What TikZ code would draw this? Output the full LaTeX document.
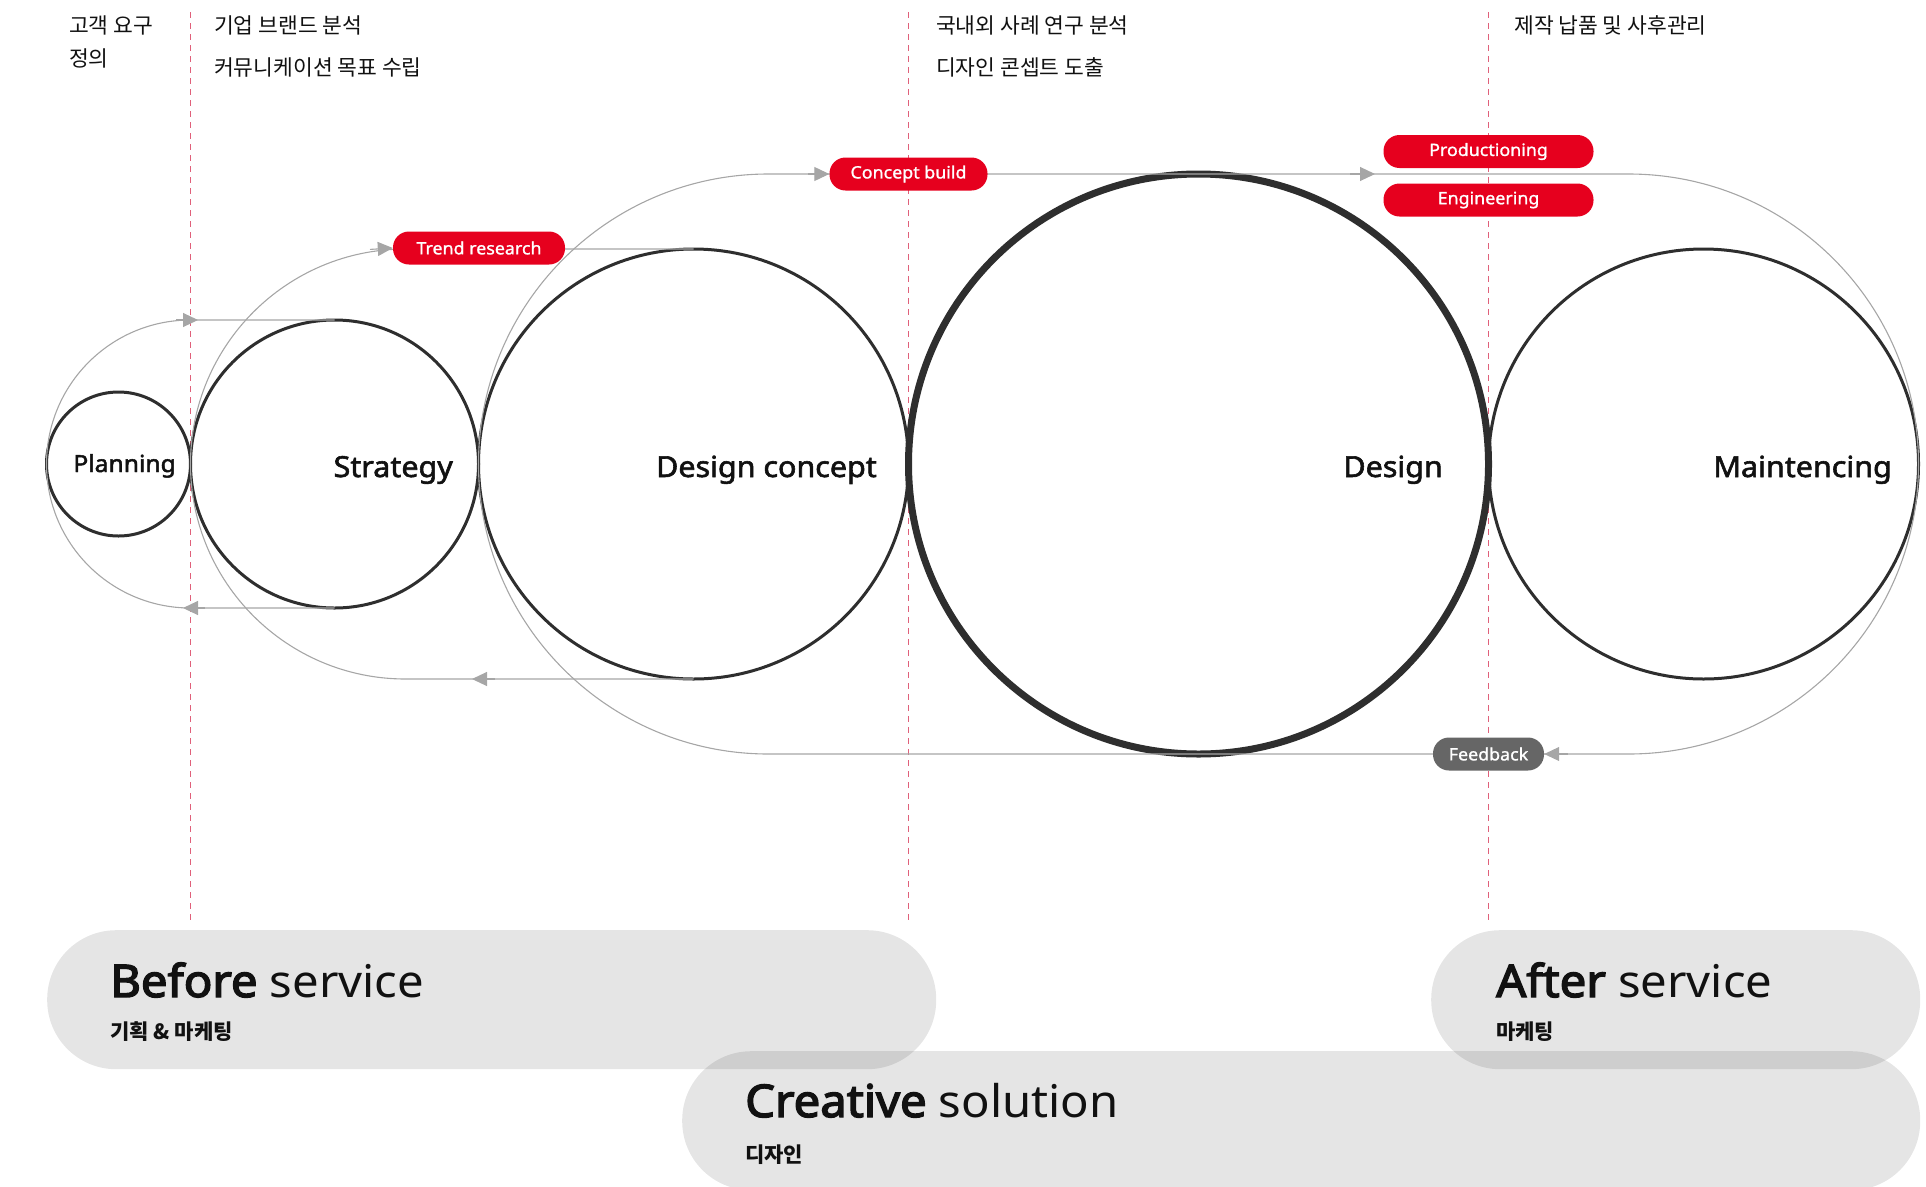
\documentclass[tikz,border=0pt]{standalone}
\usepackage{fontspec}
\setmainfont{Noto Sans}[FakeStretch=1.05]
\newfontfamily\kr{Noto Sans CJK KR}
\newfontfamily\medfont[FakeBold=1.2,FakeStretch=1.05]{Noto Sans}
\newfontfamily\semibold[FakeBold=2,FakeStretch=1.05]{Noto Sans}
\newfontfamily\heavy[FakeBold=3.2,FakeStretch=1.05]{Noto Sans}
\usetikzlibrary{arrows.meta}
\definecolor{pillred}{HTML}{E6001E}
\definecolor{flow}{HTML}{A6A6A6}
\definecolor{ringc}{HTML}{2E2E2E}
\definecolor{guide}{HTML}{E0607A}
\definecolor{fbgrey}{HTML}{666666}
\definecolor{ink}{HTML}{111111}
\begin{document}
\begin{tikzpicture}[x=1pt,y=1pt,
  ring/.style={circle,draw=ringc,line width=3pt,inner sep=0pt,outer sep=0pt},
  flowline/.style={draw=flow,line width=1.1pt},
  flowarrow/.style={draw=flow,fill=flow,line width=1.1pt,-{Triangle[length=15pt,width=14pt]}},
  guideline/.style={draw=guide,line width=1pt,dash pattern=on 6pt off 5pt},
  pill/.style={fill=pillred,text=white,rounded corners=16pt,minimum height=33pt,inner sep=0pt,font=\fontsize{17}{17}\selectfont\medfont},
  ringlabel/.style={anchor=base east,text=ink,inner sep=0pt,font=\fontsize{29}{29}\selectfont\semibold},
  toptext/.style={anchor=base west,text=ink,inner sep=0pt,font=\fontsize{21.5}{21.5}\selectfont\kr},
  band/.style={fill=black,fill opacity=0.1,rounded corners=69pt,inner sep=0pt,minimum height=139pt,anchor=north west},
  bandtitle/.style={anchor=base west,text=ink,inner sep=0pt,font=\fontsize{45}{45}\selectfont},
  bandsub/.style={anchor=base west,text=ink,inner sep=0pt,font=\fontsize{21}{21}\selectfont\kr\bfseries}
]
\useasboundingbox (0,0) rectangle (1926,-1186);

% guide lines
\coordinate (g1t) at (190.5,-12);  \coordinate (g1b) at (190.5,-922);
\coordinate (g2t) at (908.5,-12);  \coordinate (g2b) at (908.5,-922);
\coordinate (g3t) at (1488.5,-12); \coordinate (g3b) at (1488.5,-922);
\draw[guideline] (g1t) -- (g1b);
\draw[guideline] (g2t) -- (g2b);
\draw[guideline] (g3t) -- (g3b);

% circles
\node[ring,minimum size=144pt] (planning) at (118.5,-464) {};
\node[ring,minimum size=288pt] (strategy) at (334.5,-464) {};
\node[ring,minimum size=430pt] (dconcept) at (693.5,-464) {};
\node[ring,minimum size=580pt,line width=7pt] (design) at (1198.5,-464) {};
\node[ring,minimum size=430pt] (maint) at (1703.5,-464) {};

% flow loop 1
\coordinate (l1b) at (190.5,-608);
\draw[flowline] (strategy.south) -- (l1b) arc[start angle=270,end angle=90,radius=144pt] -- (strategy.north);
% flow loop 2
\coordinate (l2b) at (405.5,-679);
\draw[flowline] (dconcept.south) -- (l2b) arc[start angle=270,end angle=90,radius=215pt] -- (dconcept.north);
% flow loop 3
\coordinate (l3tl) at (768.5,-174);
\coordinate (l3tr) at (1628.5,-174);
\coordinate (l3br) at (1628.5,-754);
\draw[flowline] (l3tl) -- (l3tr) arc[start angle=90,end angle=-90,radius=290pt] -- (l3br -| l3tl) arc[start angle=270,end angle=90,radius=290pt] -- cycle;

% labels
\node[ringlabel,font=\fontsize{23.5}{23.5}\selectfont\semibold] (tplanning) at (176,-472) {Planning};
\node[ringlabel] (tstrategy) at (453,-477) {Strategy};
\node[ringlabel] (tdconcept) at (877,-477) {Design concept};
\node[ringlabel] (tdesign) at (1443,-477) {Design};
\node[ringlabel] (tmaint) at (1892,-477) {Maintencing};

% pills
\node[pill,minimum width=172pt] (trend) at (479,-248) {Trend research};
\node[pill,minimum width=158pt] (cbuild) at (908.5,-174) {Concept build};
\node[pill,minimum width=210pt] (prod) at (1488.5,-151.5) {Productioning};
\node[pill,minimum width=210pt] (eng) at (1488.5,-200) {Engineering};
\node[pill,minimum width=111pt,fill=fbgrey] (feedback) at (1488.5,-754) {Feedback};

% arrow heads
\coordinate (a1s) at (176,-320); \coordinate (a1e) at (198,-320);
\coordinate (a2s) at (205,-608); \coordinate (a2e) at (183,-608);
\coordinate (a3s) at (370,-249.4);
\coordinate (a4s) at (495,-679); \coordinate (a4e) at (472,-679);
\coordinate (a5s) at (808,-174);
\coordinate (a6s) at (1350,-174); \coordinate (a6e) at (1375,-174);
\coordinate (a7s) at (1568,-754);
\draw[flowarrow] (a1s) -- (a1e);
\draw[flowarrow] (a2s) -- (a2e);
\draw[flowarrow] (a3s) -- (trend.west);
\draw[flowarrow] (a4s) -- (a4e);
\draw[flowarrow] (a5s) -- (cbuild.west);
\draw[flowarrow] (a6s) -- (a6e);
\draw[flowarrow] (a7s) -- (feedback.east);

% top texts
\node[toptext] (k1) at (69,-33) {고객 요구};
\node[toptext] (k2) at (69,-66) {정의};
\node[toptext] (k3) at (214,-33) {기업 브랜드 분석};
\node[toptext] (k4) at (214,-75) {커뮤니케이션 목표 수립};
\node[toptext] (k5) at (936,-33) {국내외 사례 연구 분석};
\node[toptext] (k6) at (936,-75) {디자인 콘셉트 도출};
\node[toptext] (k7) at (1514,-33) {제작 납품 및 사후관리};

% bands
\node[band,minimum width=889pt] (before) at (47,-930) {};
\node[band,minimum width=489pt] (after) at (1431,-930) {};
\node[band,minimum width=1238pt] (creative) at (682,-1051) {};

\node[bandtitle] (tbefore) at (110,-997) {{\heavy Before} service};
\node[bandsub] (sbefore) at (110,-1039) {기획 \& 마케팅};
\node[bandtitle] (tafter) at (1496,-997) {{\heavy After} service};
\node[bandsub] (safter) at (1496,-1039) {마케팅};
\node[bandtitle] (tcreative) at (745,-1117) {{\heavy Creative} solution};
\node[bandsub] (screative) at (745,-1162) {디자인};
\end{tikzpicture}
\end{document}
